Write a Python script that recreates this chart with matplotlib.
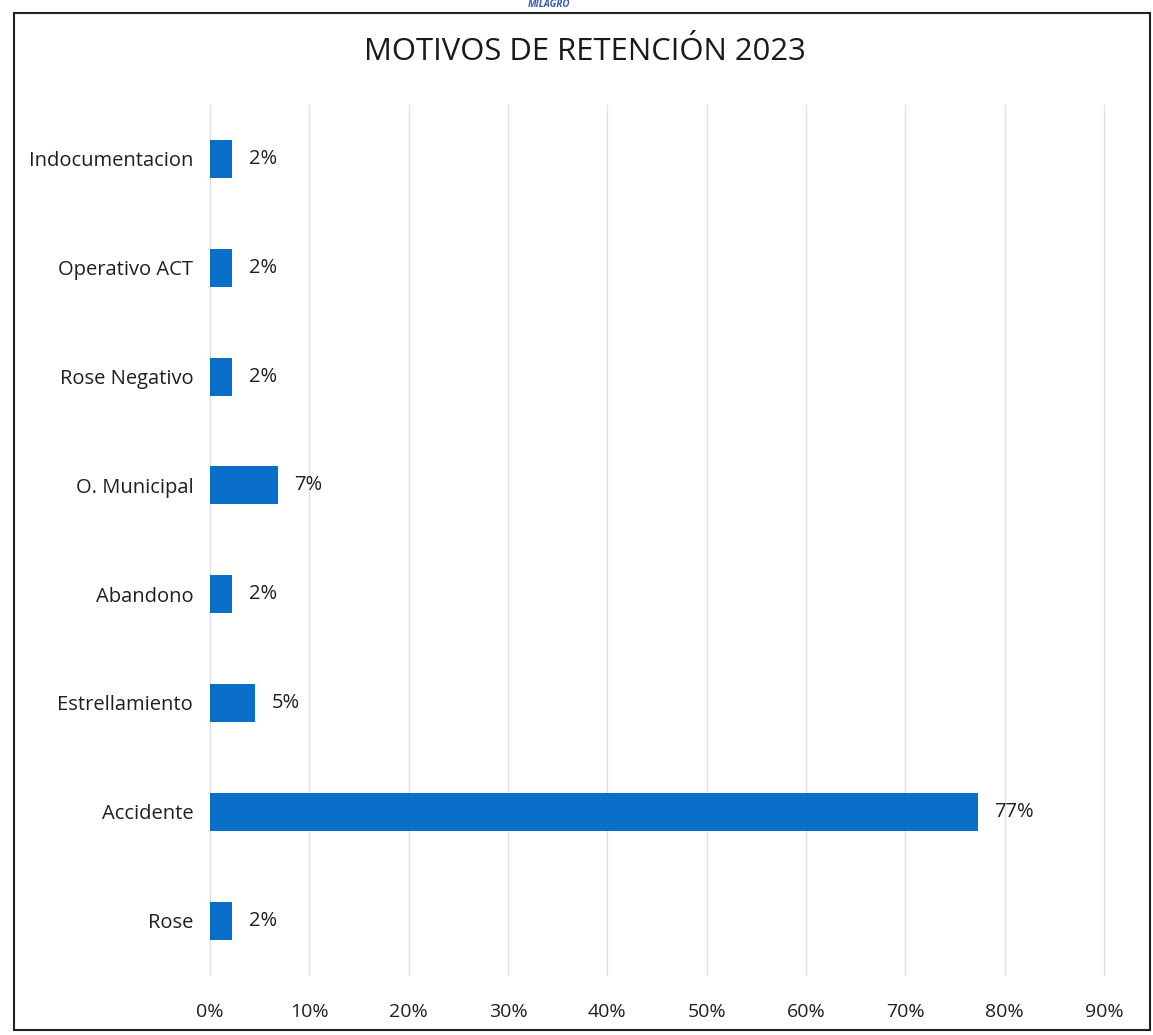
import matplotlib
matplotlib.use("Agg")
import matplotlib.pyplot as plt
import matplotlib.ticker as ticker
from matplotlib.patches import Rectangle

plt.rcParams["font.family"] = ["Open Sans", "DejaVu Sans"]

# categories from top to bottom, as in the chart
categories = ["Indocumentacion", "Operativo ACT", "Rose Negativo", "O. Municipal",
              "Abandono", "Estrellamiento", "Accidente", "Rose"]
shares = [0.0227, 0.0227, 0.0227, 0.0682, 0.0227, 0.0455, 0.7727, 0.0227]
x_ticks = [0.0, 0.1, 0.2, 0.3, 0.4, 0.5, 0.6, 0.7, 0.8, 0.9]

bar_color = "#0A6FC8"

fig = plt.figure(figsize=(11.53, 10.35), dpi=100)
ax = fig.add_axes([0.182, 0.058, 0.7755, 0.841])

pos = list(range(len(categories)))
bars = ax.barh(pos, shares, height=0.35, color=bar_color, zorder=3)
ax.set_ylim(len(categories) - 0.5, -0.5)
ax.set_xlim(0, 0.9)

# data labels
for bar, val in zip(bars, shares):
    ax.annotate(f"{val:.0%}", xy=(bar.get_width(), bar.get_y() + bar.get_height() / 2),
                xytext=(12, 0), textcoords="offset points", va="center", ha="left",
                fontsize=14.5, color="#1f1f1f")

ax.set_yticks(pos)
ax.set_yticklabels(categories, fontsize=14.5, color="#1f1f1f")
ax.set_xticks(x_ticks)
ax.xaxis.set_major_formatter(ticker.PercentFormatter(1.0, decimals=0))
ax.tick_params(axis="x", labelsize=14, colors="#1f1f1f", length=0, pad=20)
ax.tick_params(axis="y", length=0, pad=12)
ax.grid(axis="x", color="#e0e0e0", linewidth=1.0, zorder=0)
for line in ax.get_xgridlines():
    line.set_clip_on(False)  # keep the 90% line at the axes edge visible
for s in ax.spines.values():
    s.set_visible(False)

fig.text(0.507, 0.950, "MOTIVOS DE RETENCIÓN 2023", ha="center", va="center",
         fontsize=22.3, color="#1a1a1a")

# scan header and page border
fig.text(0.476, 0.996, "MILAGRO", ha="center", va="center", fontsize=7,
         fontweight="bold", style="italic", color="#3b5bb5")
fig.add_artist(Rectangle((0.012, 0.005), 0.985, 0.982, transform=fig.transFigure,
                         fill=False, edgecolor="#222222", linewidth=1.5))

fig.savefig("out.png", dpi=100)
